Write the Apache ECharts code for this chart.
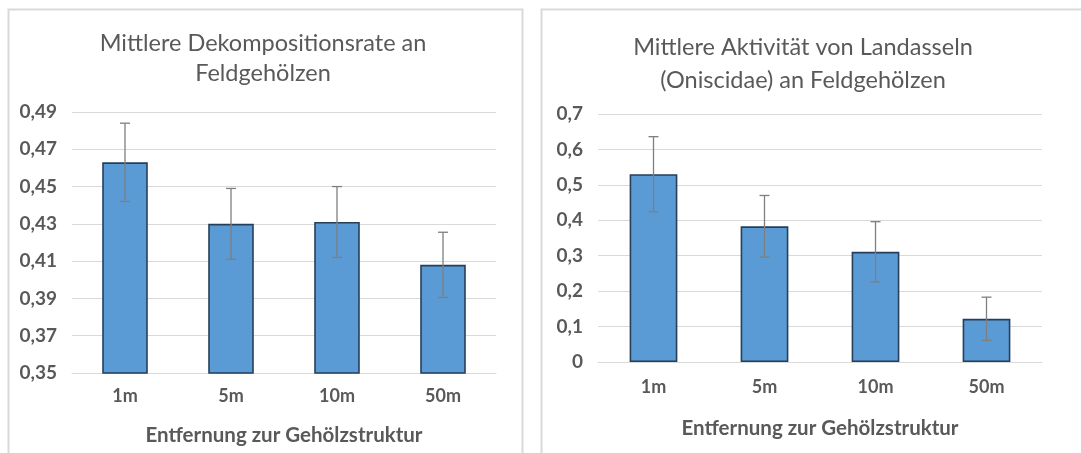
<!DOCTYPE html>
<html>
<head>
<meta charset="utf-8">
<script src="https://cdn.jsdelivr.net/npm/echarts@6/dist/echarts.min.js"></script>
<style>
html,body{margin:0;padding:0;background:#fff;}
#chart{width:1081px;height:453px;}
</style>
</head>
<body>
<div id="chart"></div>
<script>
// ---- data ----
const categories = ['1m', '5m', '10m', '50m'];
const decompMean = [0.463, 0.430, 0.431, 0.408];
const decompErr = [0.021, 0.019, 0.019, 0.0175];
const oniscMean = [0.530, 0.383, 0.311, 0.122];
const oniscErr = [0.106, 0.087, 0.085, 0.061];
const title1 = 'Mittlere Dekompositionsrate an\nFeldgehölzen';
const title2 = 'Mittlere Aktivität von Landasseln\n(Oniscidae) an Feldgehölzen';
const xName = 'Entfernung zur Gehölzstruktur';

const FONT = 'Lato';
const TXT = '#595959';

function errData(mean, err) {
  return mean.map((m, i) => [i, m - err[i], m + err[i]]);
}

function errRender(params, api) {
  const x = api.value(0);
  const pHi = api.coord([x, api.value(2)]);
  const pLo = api.coord([x, api.value(1)]);
  const hw = 5;
  const st = { stroke: '#7f7f7f', lineWidth: 1.3 };
  return {
    type: 'group',
    children: [
      { type: 'line', shape: { x1: pHi[0], y1: pHi[1], x2: pLo[0], y2: pLo[1] }, style: st },
      { type: 'line', shape: { x1: pHi[0] - hw, y1: pHi[1], x2: pHi[0] + hw, y2: pHi[1] }, style: st },
      { type: 'line', shape: { x1: pLo[0] - hw, y1: pLo[1], x2: pLo[0] + hw, y2: pLo[1] }, style: st }
    ]
  };
}

function xAxis(gridIndex, margin, nameGap) {
  return {
    type: 'category', gridIndex, data: categories,
    axisLine: { show: true, lineStyle: { color: '#d9d9d9', width: 1 } },
    axisTick: { show: false },
    axisLabel: { margin, color: TXT, fontFamily: FONT, fontWeight: 'bold', fontSize: 18 },
    name: xName, nameLocation: 'middle', nameGap,
    nameTextStyle: { color: TXT, fontFamily: FONT, fontWeight: 'bold', fontSize: 20.5 }
  };
}

function yAxis(gridIndex, min, max, interval, fmt) {
  return {
    type: 'value', gridIndex, min, max, interval,
    axisLine: { show: false }, axisTick: { show: false },
    splitLine: { lineStyle: { color: '#d9d9d9', width: 1 } },
    axisLabel: { margin: 15, color: TXT, fontFamily: FONT, fontWeight: 'bold', fontSize: 19, formatter: fmt }
  };
}

const barStyle = { color: '#5b9bd5', borderColor: '#253f5a', borderWidth: 1.6 };

const option = {
  animation: false,
  backgroundColor: '#ffffff',
  graphic: [
    { type: 'rect', shape: { x: 8.5, y: 9.5, width: 514, height: 470 }, style: { fill: 'none', stroke: '#d9d9d9', lineWidth: 2 }, silent: true },
    { type: 'rect', shape: { x: 541.5, y: 9.5, width: 600, height: 470 }, style: { fill: 'none', stroke: '#d9d9d9', lineWidth: 2 }, silent: true }
  ],
  title: [
    { text: title1, left: 263, top: 28, textAlign: 'center', padding: 0,
      textStyle: { color: TXT, fontFamily: FONT, fontWeight: 'normal', fontSize: 23.5, lineHeight: 30 } },
    { text: title2, left: 803, top: 31, textAlign: 'center', padding: 0,
      textStyle: { color: TXT, fontFamily: FONT, fontWeight: 'normal', fontSize: 23.5, lineHeight: 33 } }
  ],
  grid: [
    { left: 72, right: 1081 - 496, top: 112, bottom: 453 - 373 },
    { left: 598, right: 1081 - 1042, top: 114, bottom: 453 - 362 }
  ],
  xAxis: [xAxis(0, 14, 52), xAxis(1, 16, 56)],
  yAxis: [
    yAxis(0, 0.35, 0.49, 0.02, v => v.toFixed(2).replace('.', ',')),
    yAxis(1, 0, 0.7, 0.1, v => v === 0 ? '0' : v.toFixed(1).replace('.', ','))
  ],
  series: [
    { type: 'bar', xAxisIndex: 0, yAxisIndex: 0, data: decompMean, barWidth: '43%', itemStyle: barStyle },
    { type: 'custom', xAxisIndex: 0, yAxisIndex: 0, data: errData(decompMean, decompErr),
      encode: { x: 0, y: [1, 2] }, renderItem: errRender, z: 10 },
    { type: 'bar', xAxisIndex: 1, yAxisIndex: 1, data: oniscMean, barWidth: '43%', itemStyle: barStyle },
    { type: 'custom', xAxisIndex: 1, yAxisIndex: 1, data: errData(oniscMean, oniscErr),
      encode: { x: 0, y: [1, 2] }, renderItem: errRender, z: 10 }
  ]
};

const chart = echarts.init(document.getElementById('chart'), null, { renderer: 'canvas' });
chart.setOption(option);
</script>
</body>
</html>
